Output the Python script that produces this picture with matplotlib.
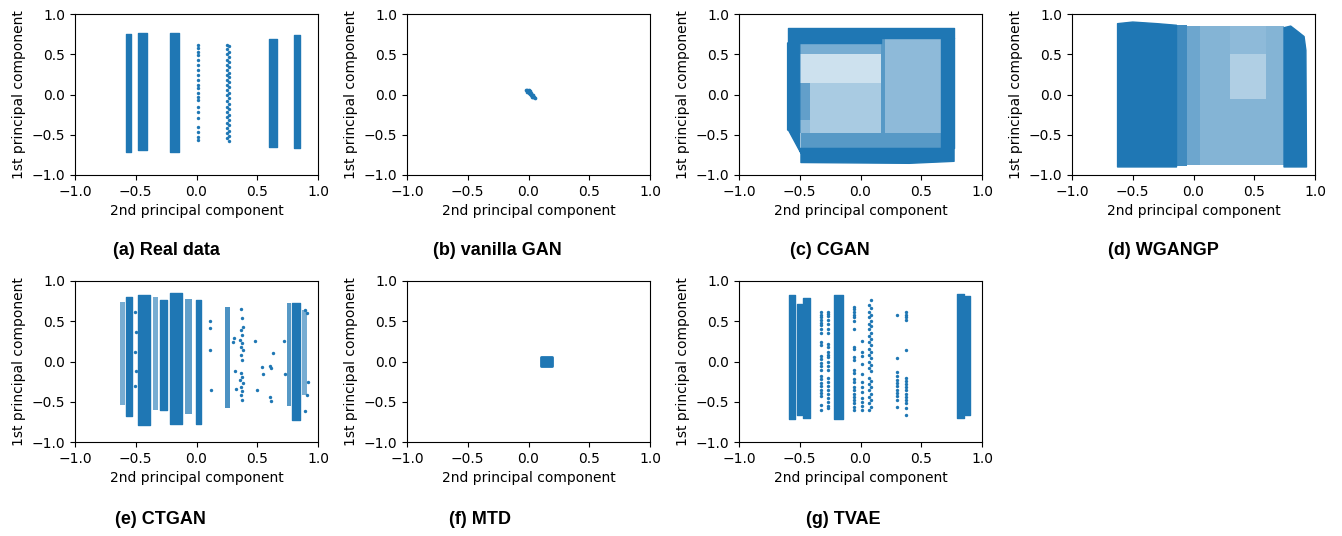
import matplotlib
matplotlib.use("Agg")
import matplotlib.pyplot as plt
import numpy as np

BLUE = "#1f77b4"

# ---------------- data ----------------
# Columns / regions: x0, x1, y0, y1, coverage (visual density of points 0..1)
real_x0 = [-0.58, -0.478, -0.217, 0.600, 0.805]
real_x1 = [-0.541, -0.409, -0.148, 0.660, 0.854]
real_y0 = [-0.71, -0.69, -0.71, -0.648, -0.67]
real_y1 = [0.75, 0.77, 0.77, 0.685, 0.74]
real_cov = [1.0, 1.0, 1.0, 1.0, 1.0]
real_s1_x = 0.013
real_s1_y = [0.615, 0.574, 0.532, 0.49, 0.43, 0.366, 0.304, 0.242, 0.18, 0.118, 0.077,
             0.015, -0.027, -0.068, -0.151, -0.213, -0.296, -0.40, -0.462, -0.524, -0.565]
real_s2_x = 0.248
real_s2_y = [0.62, 0.56, 0.50, 0.43, 0.37, 0.30, 0.24, 0.18, 0.12, 0.06, -0.01, -0.08,
             -0.15, -0.22, -0.28, -0.35, -0.42, -0.48, -0.54]
real_s3_x = 0.265
real_s3_y = [0.60, 0.53, 0.46, 0.40, 0.34, 0.27, 0.22, 0.15, 0.09, 0.02, -0.04, -0.12,
             -0.18, -0.25, -0.32, -0.38, -0.45, -0.51, -0.58]

vgan_x = [-0.02, -0.01, 0.0, -0.015, 0.0, 0.01, 0.015, 0.02, 0.025, 0.03, 0.04, 0.045,
          0.05, 0.01, 0.02, 0.035, 0.0, 0.03]
vgan_y = [0.05, 0.06, 0.05, 0.035, 0.03, 0.02, 0.01, 0.0, -0.01, -0.02, -0.025, -0.03,
          -0.04, 0.04, 0.02, -0.005, 0.015, -0.03]

# CGAN dense polygons and medium-density rectangles
cgan_dense = [
    [(-0.60, 0.64), (-0.60, 0.82), (0.77, 0.82), (0.77, 0.70), (0.17, 0.70), (0.17, 0.64)],
    [(-0.60, 0.64), (-0.50, 0.64), (-0.50, -0.67), (-0.49, -0.73), (-0.59, -0.45), (-0.60, -0.44)],
    [(-0.50, -0.67), (0.77, -0.67), (0.77, -0.83), (0.40, -0.855), (-0.49, -0.845), (-0.49, -0.73)],
    [(0.66, 0.70), (0.77, 0.70), (0.77, -0.67), (0.66, -0.67)],
]
cgan_rx0 = [-0.50, -0.418, -0.50, -0.50, -0.50, 0.17, 0.205, -0.49]
cgan_rx1 = [0.17, 0.17, -0.418, -0.418, 0.17, 0.205, 0.66, 0.66]
cgan_ry0 = [0.14, -0.48, -0.32, -0.48, 0.50, -0.48, -0.48, -0.67]
cgan_ry1 = [0.50, 0.14, 0.14, -0.32, 0.64, 0.70, 0.70, -0.48]
cgan_rcov = [0.22, 0.38, 0.7, 0.5, 0.6, 0.75, 0.5, 0.75]

# WGANGP
wgan_dense = [
    [(-0.625, -0.90), (-0.625, 0.88), (-0.50, 0.90), (-0.30, 0.88), (-0.14, 0.86), (-0.14, -0.90)],
    [(0.745, -0.90), (0.745, 0.83), (0.80, 0.85), (0.86, 0.78), (0.91, 0.72), (0.925, 0.55), (0.93, -0.90)],
]
wgan_rx0 = [-0.14, -0.05, 0.05, 0.30, 0.30, 0.30, 0.60]
wgan_rx1 = [-0.05, 0.05, 0.30, 0.60, 0.60, 0.60, 0.745]
wgan_ry0 = [-0.89, -0.88, -0.88, 0.50, -0.05, -0.88, -0.88]
wgan_ry1 = [0.86, 0.85, 0.85, 0.85, 0.50, -0.05, 0.85]
wgan_rcov = [0.85, 0.65, 0.55, 0.5, 0.35, 0.55, 0.55]

# CTGAN columns
ctgan_x0 = [-0.63, -0.58, -0.48, -0.355, -0.30, -0.217, -0.093, -0.005, 0.236, 0.745, 0.786, 0.868]
ctgan_x1 = [-0.59, -0.53, -0.38, -0.315, -0.245, -0.121, -0.040, 0.040, 0.272, 0.778, 0.848, 0.910]
ctgan_y0 = [-0.54, -0.68, -0.79, -0.60, -0.60, -0.78, -0.65, -0.78, -0.58, -0.55, -0.73, -0.42]
ctgan_y1 = [0.74, 0.80, 0.82, 0.80, 0.77, 0.85, 0.78, 0.76, 0.68, 0.73, 0.73, 0.64]
ctgan_cov = [0.6, 0.9, 1.0, 0.6, 0.9, 1.0, 0.7, 0.9, 0.8, 0.75, 1.0, 0.6]
ctgan_pts_x = [-0.51, -0.50, -0.51, -0.50, -0.51, 0.111, 0.111, 0.111, 0.117, 0.311, 0.298,
               0.317, 0.325, 0.481, 0.495, 0.536, 0.545, 0.605, 0.613, 0.632, 0.605, 0.616,
               0.723, 0.728, 0.893, 0.907, 0.92, 0.907, 0.893]
ctgan_pts_y = [0.62, 0.37, 0.12, -0.12, -0.31, 0.503, 0.41, 0.143, -0.354, 0.288, 0.246,
               -0.118, -0.342, 0.255, -0.354, -0.064, -0.16, -0.052, -0.085, 0.11, -0.437, -0.487,
               0.255, -0.16, 0.64, 0.60, -0.25, -0.41, -0.615]
ctgan_c12_x = [0.365, 0.372, 0.38, 0.368, 0.375, 0.362, 0.378, 0.37, 0.384, 0.366, 0.374,
               0.368, 0.376, 0.362, 0.38, 0.37, 0.376, 0.366, 0.372]
ctgan_c12_y = [0.652, 0.544, 0.432, 0.391, 0.329, 0.267, 0.226, 0.184, 0.143, 0.081, 0.019,
               -0.147, -0.188, -0.23, -0.271, -0.312, -0.366, -0.416, -0.478]

# MTD cluster box
mtd_x0, mtd_x1, mtd_y0, mtd_y1 = 0.10, 0.19, -0.05, 0.06

# TVAE columns
tvae_x0 = [-0.585, -0.522, -0.470, -0.216, 0.795, 0.863]
tvae_x1 = [-0.536, -0.481, -0.415, -0.148, 0.850, 0.904]
tvae_y0 = [-0.72, -0.67, -0.70, -0.71, -0.70, -0.67]
tvae_y1 = [0.82, 0.72, 0.79, 0.83, 0.84, 0.81]
tvae_cov = [1.0, 1.0, 1.0, 1.0, 1.0, 1.0]
tvae_sx = [-0.325, -0.270, -0.055, 0.012, 0.072, 0.090, 0.303, 0.375]
tvae_sy = [
    [0.62, 0.58, 0.55, 0.52, 0.48, 0.45, 0.40, 0.36, 0.24, 0.20, 0.07, 0.03, -0.02, -0.06,
     -0.10, -0.18, -0.22, -0.27, -0.31, -0.35, -0.39, -0.43, -0.54, -0.60],
    [0.62, 0.59, 0.56, 0.52, 0.47, 0.40, 0.35, 0.22, 0.18, 0.12, 0.08, 0.05, 0.0, -0.06,
     -0.10, -0.20, -0.25, -0.30, -0.35, -0.40, -0.45, -0.50, -0.55, -0.58],
    [0.68, 0.65, 0.62, 0.58, 0.55, 0.50, 0.40, 0.18, 0.15, 0.05, 0.02, -0.10, -0.14, -0.22,
     -0.26, -0.32, -0.36, -0.40, -0.44, -0.48, -0.52, -0.56, -0.60],
    [0.25, 0.12, 0.07, -0.03, -0.15, -0.25, -0.32, -0.38, -0.45, -0.50, -0.55, -0.60],
    [0.70, 0.62, 0.55, 0.47, 0.40, 0.32, 0.24, 0.16, 0.08, 0.0, -0.08, -0.20, -0.28, -0.36,
     -0.44, -0.52, -0.60],
    [0.77, 0.66, 0.58, 0.50, 0.44, 0.36, 0.28, 0.20, 0.12, 0.04, -0.04, -0.12, -0.24, -0.32,
     -0.40, -0.48, -0.56],
    [0.58, 0.04, -0.13, -0.18, -0.23, -0.27, -0.31, -0.35, -0.39, -0.43, -0.48, -0.56],
    [0.62, 0.58, 0.55, 0.52, 0.14, -0.20, -0.24, -0.28, -0.32, -0.36, -0.40, -0.44, -0.48,
     -0.52, -0.58, -0.66],
]

captions = ["(a) Real data", "(b) vanilla GAN", "(c) CGAN", "(d) WGANGP",
            "(e) CTGAN", "(f) MTD", "(g) TVAE"]
ticks = [-1.0, -0.5, 0.0, 0.5, 1.0]

# ---------------- drawing ----------------
fig = plt.figure(figsize=(13.42, 5.36), dpi=100)
W, H = 1342, 536
lefts = [75, 407, 739, 1072]
tops = [14, 281]
aw, ah = 243, 161

def make_ax(col, row):
    l = lefts[col] / W
    b = 1 - (tops[row] + ah) / H
    ax = fig.add_axes([l, b, aw / W, ah / H])
    ax.set_xlim(-1, 1)
    ax.set_ylim(-1, 1)
    ax.set_xticks(ticks)
    ax.set_yticks(ticks)
    ax.tick_params(labelsize=10)
    ax.set_xlabel("2nd principal component", fontsize=10)
    ax.set_ylabel("1st principal component", fontsize=10)
    return ax

def cols(ax, x0, x1, y0, y1, cov):
    for xa, xb, ya, yb, c in zip(x0, x1, y0, y1, cov):
        if c >= 0.9:
            ax.bar((xa + xb) / 2, yb - ya, bottom=ya, width=xb - xa, color=BLUE,
                   linewidth=1.0, edgecolor=BLUE, joinstyle="round")
        else:
            ax.bar((xa + xb) / 2, yb - ya, bottom=ya, width=xb - xa, color=BLUE,
                   alpha=c, linewidth=0)

def polys(ax, plist):
    for p in plist:
        xs, ys = zip(*p)
        ax.fill(xs, ys, color=BLUE, linewidth=1.0, joinstyle="round")

def pts(ax, x, y, s=6):
    ax.scatter(x, y, s=s, color=BLUE, linewidths=0)

# (a)
ax = make_ax(0, 0)
cols(ax, real_x0, real_x1, real_y0, real_y1, real_cov)
pts(ax, np.full(len(real_s1_y), real_s1_x), real_s1_y)
pts(ax, np.full(len(real_s2_y), real_s2_x), real_s2_y)
pts(ax, np.full(len(real_s3_y), real_s3_x), real_s3_y)

# (b)
ax = make_ax(1, 0)
pts(ax, vgan_x, vgan_y, s=7)

# (c)
ax = make_ax(2, 0)
cols(ax, cgan_rx0, cgan_rx1, cgan_ry0, cgan_ry1, cgan_rcov)
polys(ax, cgan_dense)

# (d)
ax = make_ax(3, 0)
cols(ax, wgan_rx0, wgan_rx1, wgan_ry0, wgan_ry1, wgan_rcov)
polys(ax, wgan_dense)

# (e)
ax = make_ax(0, 1)
cols(ax, ctgan_x0, ctgan_x1, ctgan_y0, ctgan_y1, ctgan_cov)
pts(ax, ctgan_pts_x, ctgan_pts_y)
pts(ax, ctgan_c12_x, ctgan_c12_y)

# (f)
ax = make_ax(1, 1)
ax.bar((mtd_x0 + mtd_x1) / 2, mtd_y1 - mtd_y0, bottom=mtd_y0, width=mtd_x1 - mtd_x0,
       color=BLUE, linewidth=2.0, edgecolor=BLUE, joinstyle="round")

# (g)
ax = make_ax(2, 1)
cols(ax, tvae_x0, tvae_x1, tvae_y0, tvae_y1, tvae_cov)
for sx, sy in zip(tvae_sx, tvae_sy):
    pts(ax, np.full(len(sy), sx), sy)

# captions
cap_pos = [(166, 250), (497, 250), (830, 250), (1163, 250),
           (160, 520), (480, 520), (843, 520)]
for txt, (cx, cy) in zip(captions, cap_pos):
    fig.text(cx / W, 1 - cy / H, txt, ha="center", va="center", fontsize=13,
             fontweight="bold", family="Liberation Sans")

fig.savefig("out.png", dpi=100)
